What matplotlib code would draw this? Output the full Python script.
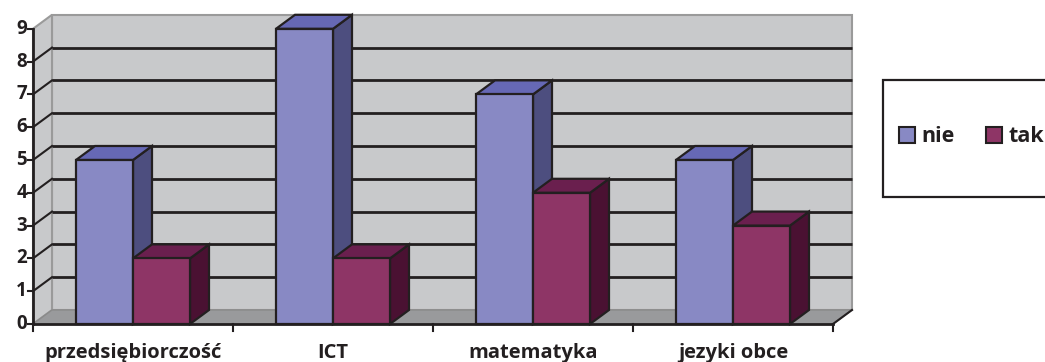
import matplotlib
matplotlib.use("Agg")
import matplotlib.pyplot as plt
from matplotlib.patches import Polygon, Rectangle, Patch

plt.rcParams['font.family'] = ['Open Sans', 'DejaVu Sans']
plt.rcParams['font.weight'] = 'bold'

categories = ['przedsiębiorczość', 'ICT', 'matematyka', 'jezyki obce']
nie = [5, 9, 7, 5]
tak = [2, 2, 4, 3]
series = ['nie', 'tak']
y_ticks = list(range(0, 10))

# front / top / side shades for each series
colors = {
    'nie': ('#8889c4', '#6668b5', '#4d4e7f'),
    'tak': ('#8e3566', '#6a1f4e', '#4a1132'),
}
edge = '#231f20'
wall = '#c8c9cb'
floor = '#999a9c'

dx, dy = 0.095, 0.427      # depth offset of the 3d box
bw = 0.285                 # bar width
gap = 0.215                # space before first bar in a category
ymax = 9

fig = plt.figure(figsize=(10.45, 3.62), dpi=100)
ax = fig.add_axes([0, 0, 1, 1])
ax.set_xlim(-0.165, 5.06)
ax.set_ylim(-1.159, 9.878)
ax.axis('off')

n = len(categories)

# walls and floor
ax.add_patch(Polygon([(dx, dy), (n + dx, dy), (n + dx, ymax + dy), (dx, ymax + dy)],
                     closed=True, facecolor=wall, edgecolor='#9a9a9a', lw=1.5, zorder=1))
ax.add_patch(Polygon([(0, 0), (dx, dy), (dx, ymax + dy), (0, ymax)],
                     closed=True, facecolor=wall, edgecolor='#9a9a9a', lw=1.5, zorder=1))
ax.add_patch(Polygon([(0, 0), (n, 0), (n + dx, dy), (dx, dy)],
                     closed=True, facecolor=floor, edgecolor='#8a8a8a', lw=1, zorder=1))

# gridlines on the back and side wall
for v in y_ticks[1:-1]:
    ax.plot([dx, n + dx], [v + dy, v + dy], color=edge, lw=2, zorder=2,
            solid_capstyle='butt')
    ax.plot([0, dx], [v, v + dy], color=edge, lw=1.5, zorder=2)

# axes lines and ticks
ax.plot([0, 0], [0, ymax], color=edge, lw=2, zorder=5)
ax.plot([0, n], [0, 0], color=edge, lw=2, zorder=5)
ax.plot([n, n + dx], [0, dy], color=edge, lw=1.5, zorder=5)
for v in y_ticks:
    ax.plot([-0.025, 0], [v, v], color=edge, lw=1.5, zorder=5)
    ax.text(-0.03, v, str(v), ha='right', va='center', fontsize=13.5,
            fontweight='bold', color='#231f20')
for i in range(n + 1):
    ax.plot([i, i], [0, -0.2], color=edge, lw=1.5, zorder=5)


def bar3d(x0, h, name):
    front, top, side = colors[name]
    kw = dict(closed=True, edgecolor=edge, lw=1.6, zorder=6, joinstyle='miter')
    ax.add_patch(Polygon([(x0 + bw, 0), (x0 + bw + dx, dy), (x0 + bw + dx, h + dy),
                          (x0 + bw, h)], facecolor=side, **kw))
    ax.add_patch(Polygon([(x0, h), (x0 + bw, h), (x0 + bw + dx, h + dy),
                          (x0 + dx, h + dy)], facecolor=top, **kw))
    ax.add_patch(Polygon([(x0, 0), (x0 + bw, 0), (x0 + bw, h), (x0, h)],
                         facecolor=front, **kw))


for i, cat in enumerate(categories):
    bar3d(i + gap, nie[i], 'nie')
    bar3d(i + gap + bw, tak[i], 'tak')
    ax.text(i + 0.5, -0.87, cat, ha='center', va='center', fontsize=14.5,
            fontweight='bold', color='#231f20')

# legend box
ax.add_patch(Rectangle((883 / 1045, 1 - 197 / 362), 0.3, 117 / 362,
                       transform=ax.transAxes, facecolor='white', edgecolor=edge,
                       lw=1.6, zorder=7, clip_on=False))
handles = [Patch(facecolor=colors[s][0], edgecolor=edge, lw=1.5, label=s) for s in series]
leg = ax.legend(handles=handles, ncol=2, frameon=False, loc='center left',
                bbox_to_anchor=(899 / 1045, 1 - 137 / 362), fontsize=15.5,
                handlelength=0.75, handleheight=0.75, handletextpad=0.3,
                columnspacing=1.45, borderpad=0, borderaxespad=0)
leg.set_zorder(8)
for t in leg.get_texts():
    t.set_fontweight('bold')
    t.set_color('#231f20')

fig.savefig('out.png', dpi=100)
